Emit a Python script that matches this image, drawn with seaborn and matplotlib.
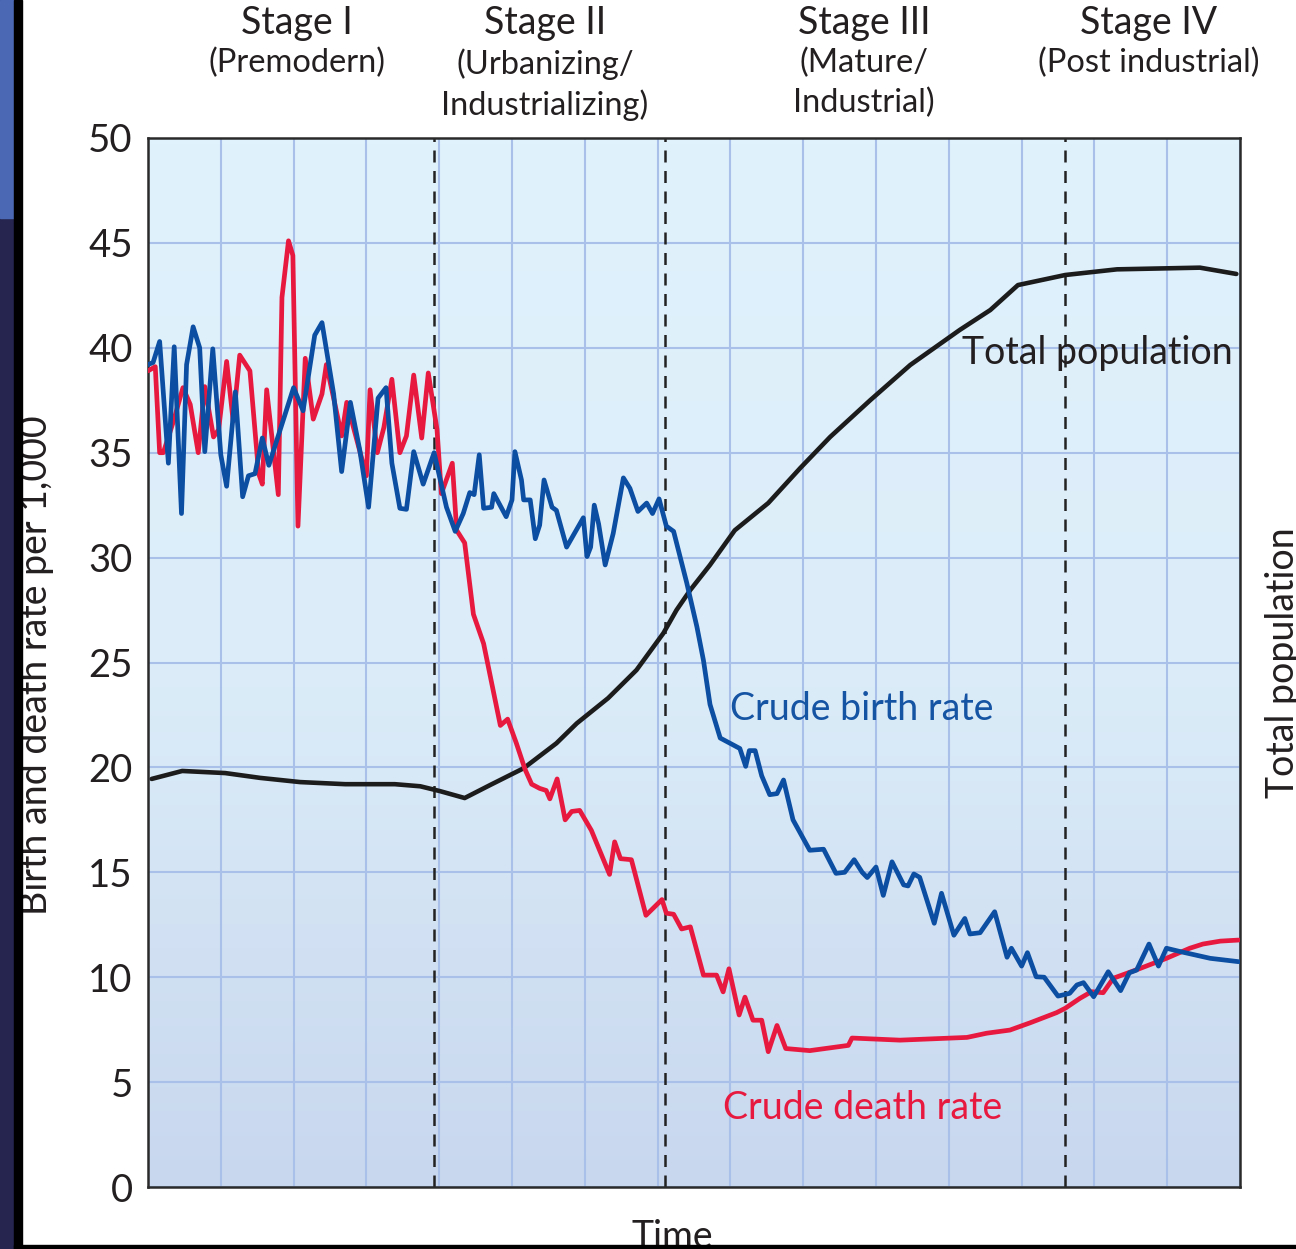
import numpy as np
import pandas as pd
import matplotlib
matplotlib.use("Agg")
import matplotlib.pyplot as plt
from matplotlib.colors import LinearSegmentedColormap
from matplotlib.patches import Rectangle
import seaborn as sns

# ---------------- data ----------------
birth_t = [0.0, 0.7, 1.6, 2.8, 3.6, 4.6, 5.3, 6.2, 7.1, 7.8, 8.9, 10.0, 10.8, 12.0, 13.0, 13.8,
           14.7, 15.7, 16.6, 20.0, 21.3, 22.9, 23.9, 25.5, 26.6, 27.8, 29.1, 30.3, 31.6, 32.7,
           33.5, 34.6, 35.5, 36.5, 37.8, 39.3, 41.0, 42.2, 43.3, 44.2, 44.8, 45.5, 46.1, 47.2,
           47.5, 49.2, 50.0, 50.4, 51.3, 51.6, 52.5, 53.2, 53.8, 54.4, 55.5, 56.1, 57.5, 59.8,
           60.3, 60.8, 61.3, 61.9, 62.8, 63.9, 65.3, 66.2, 67.3, 68.5, 69.3, 70.2, 71.2, 72.2,
           74.0, 75.4, 76.3, 77.2, 78.6, 81.3, 82.1, 82.6, 83.4, 84.3, 85.4, 86.4, 87.3, 88.6,
           90.9, 92.8, 94.5, 95.7, 97.0, 98.1, 98.8, 100.0, 101.0, 102.2, 103.8, 104.4, 105.2,
           106.0, 108.0, 109.0, 110.7, 112.2, 112.9, 114.3, 116.3, 118.0, 118.6, 120.0, 120.8,
           122.0, 123.1, 125.0, 126.6, 127.6, 128.5, 129.9, 131.9, 133.6, 134.8, 135.8, 137.5,
           138.8, 139.9, 141.8, 145.9, 149.8]
birth_rate = [39.2, 39.3, 40.3, 34.5, 40.05, 32.1, 39.2, 41.0, 40.0, 35.05, 39.95, 34.9, 33.4, 37.9,
              32.9, 33.9, 34.0, 35.7, 34.4, 38.1, 37.0, 40.6, 41.2, 37.8, 34.1, 37.4, 35.1, 32.4,
              37.6, 38.1, 34.5, 32.35, 32.3, 35.05, 33.5, 35.0, 32.4, 31.25, 32.1, 33.1, 33.0,
              34.9, 32.35, 32.4, 33.05, 31.95, 32.75, 35.05, 33.7, 32.75, 32.75, 30.9, 31.55,
              33.7, 32.4, 32.25, 30.5, 31.9, 30.05, 30.5, 32.5, 31.6, 29.65, 31.15, 33.8, 33.3,
              32.2, 32.6, 32.1, 32.8, 31.5, 31.25, 28.8, 26.7, 25.1, 23.0, 21.4, 20.9, 20.05,
              20.8, 20.8, 19.6, 18.7, 18.75, 19.4, 17.5, 16.05, 16.1, 14.95, 15.0, 15.6, 15.0,
              14.75, 15.25, 13.9, 15.5, 14.4, 14.35, 14.92, 14.76, 12.57, 14.0, 12.0, 12.8, 12.06,
              12.12, 13.12, 10.95, 11.38, 10.53, 11.17, 10.02, 10.0, 9.1, 9.23, 9.63, 9.74, 9.07,
              10.26, 9.36, 10.21, 10.34, 11.58, 10.53, 11.38, 11.22, 10.9, 10.74]

death_t = [0.0, 1.0, 1.6, 2.1, 3.5, 4.8, 5.8, 6.9, 7.8, 9.0, 9.7, 10.8, 11.7, 12.6, 14.0, 15.2,
           15.7, 16.3, 17.9, 18.4, 19.3, 19.9, 20.6, 21.6, 22.7, 23.9, 24.5, 25.5, 26.6, 27.3,
           30.0, 30.5, 31.5, 32.4, 33.5, 34.6, 35.5, 36.5, 37.6, 38.5, 39.7, 40.3, 41.8, 42.4,
           43.5, 44.7, 46.1, 48.4, 49.4, 50.6, 51.8, 52.7, 53.8, 54.7, 55.2, 56.2, 57.3, 58.2,
           59.3, 60.9, 63.4, 64.1, 64.9, 66.4, 68.4, 70.6, 71.2, 72.2, 73.3, 74.5, 76.3, 78.1,
           79.0, 79.8, 81.2, 82.0, 83.1, 84.3, 85.2, 86.4, 87.6, 90.9, 96.2, 96.7, 103.3, 112.5,
           115.2, 118.4, 121.2, 124.8, 126.0, 128.0, 129.6, 131.2, 132.6, 136.3, 139.9, 143.1,
           144.9, 147.3, 149.8]
death_rate = [38.9, 39.1, 35.0, 35.0, 36.5, 38.1, 37.3, 35.0, 38.15, 35.75, 36.1, 39.35, 36.5,
              39.65, 38.9, 34.0, 33.5, 38.0, 33.0, 42.4, 45.1, 44.4, 31.5, 39.5, 36.6, 37.8, 39.2,
              37.6, 35.8, 37.4, 33.9, 38.0, 35.0, 36.2, 38.5, 35.0, 35.8, 38.7, 35.7, 38.8, 36.1,
              33.05, 34.5, 31.3, 30.7, 27.3, 25.9, 22.0, 22.3, 21.15, 19.9, 19.2, 19.0, 18.9,
              18.5, 19.45, 17.5, 17.9, 17.95, 17.0, 14.9, 16.45, 15.65, 15.6, 12.95, 13.7, 13.05,
              13.0, 12.3, 12.4, 10.1, 10.1, 9.3, 10.4, 8.2, 9.05, 7.95, 7.95, 6.45, 7.7, 6.6, 6.5,
              6.75, 7.1, 7.0, 7.13, 7.33, 7.48, 7.83, 8.31, 8.52, 8.99, 9.31, 9.26, 9.95, 10.42,
              10.9, 11.38, 11.58, 11.72, 11.77]

pop_t = [0.5, 4.7, 10.6, 15.4, 20.9, 27.1, 33.9, 37.4, 40.1, 43.5, 47.0, 51.6, 56.1, 58.9,
         63.2, 67.1, 70.8, 72.6, 74.5, 77.2, 80.6, 85.2, 89.6, 93.7, 99.2, 104.7, 111.5, 115.7,
         119.5, 126.0, 133.1, 144.5, 149.5]
population = [19.45, 19.83, 19.73, 19.5, 19.3, 19.2, 19.2, 19.1, 18.87, 18.54, 19.16, 19.96,
              21.15, 22.1, 23.3, 24.64, 26.4, 27.5, 28.46, 29.65, 31.3, 32.6, 34.27, 35.75, 37.5,
              39.18, 40.85, 41.8, 42.99, 43.47, 43.74, 43.82, 43.52]

stage_bounds = [39.3, 71.0, 126.0]
stage_titles = ["Stage I", "Stage II", "Stage III", "Stage IV"]
stage_subtitles = ["(Premodern)", "(Urbanizing/\nIndustrializing)", "(Mature/\nIndustrial)",
                   "(Post industrial)"]
y_ticks = [0, 5, 10, 15, 20, 25, 30, 35, 40, 45, 50]

# ---------------- style ----------------
sns.set_style("white")
plt.rcParams['font.family'] = ['Lato', 'DejaVu Sans']
TXT = "#231f20"
RED = "#e8193f"
BLUE = "#0b4ea2"
BLACK = "#1c1c1c"

W, H = 1296, 1249
fig = plt.figure(figsize=(W / 100, H / 100), dpi=100)
fig.patch.set_facecolor("white")

def fx(px):
    return px / W

def fy(py):
    return 1 - py / H

ax = fig.add_axes([fx(148), fy(1187), fx(1240) - fx(148), fy(138) - fy(1187)])

# gradient background
cmap = LinearSegmentedColormap.from_list("bg", ["#e0f2fc", "#dcedf9", "#c8d7ee"])
ax.imshow(np.linspace(0, 1, 256).reshape(-1, 1), extent=[0, 150, 0, 50], aspect="auto",
          cmap=cmap, origin="upper", zorder=0, interpolation="bicubic")

ax.set_xlim(0, 150)
ax.set_ylim(0, 50)
ax.set_xticks(np.arange(0, 151, 10))
ax.set_xticklabels([])
ax.set_yticks(y_ticks)
ax.set_yticklabels([str(v) for v in y_ticks])
ax.tick_params(axis="both", length=0)
ax.tick_params(axis="y", pad=11, labelsize=27.5, labelcolor=TXT)
ax.set_axisbelow(True)
ax.grid(True, color="#a9c1e8", lw=1.5)

for s in ax.spines.values():
    s.set_visible(True)
    s.set_color("#2a2a2a")
    s.set_linewidth(1.8)

# stage boundaries
for b in stage_bounds:
    ax.axvline(b, color="#222222", lw=1.8, linestyle=(0, (4.8, 3.4)), zorder=2)

df_pop = pd.DataFrame({"t": pop_t, "v": population})
df_d = pd.DataFrame({"t": death_t, "v": death_rate})
df_b = pd.DataFrame({"t": birth_t, "v": birth_rate})
sns.lineplot(data=df_pop, x="t", y="v", ax=ax, color=BLACK, lw=3.3, estimator=None, zorder=3)
sns.lineplot(data=df_d, x="t", y="v", ax=ax, color=RED, lw=3.4, estimator=None, zorder=4)
sns.lineplot(data=df_b, x="t", y="v", ax=ax, color=BLUE, lw=3.4, estimator=None, zorder=5)
ax.set_xlabel("")
ax.set_ylabel("")

# line labels
ax.text(79.9, 22.8, "Crude birth rate", color="#1553a3", fontsize=27, va="center", ha="left", zorder=6)
ax.text(79.0, 3.75, "Crude death rate", color=RED, fontsize=27, va="center", ha="left", zorder=6)
ax.text(111.8, 39.75, "Total population", color=TXT, fontsize=27, va="center", ha="left", zorder=6)

# stage headers
stage_x = [297, 545, 864, 1149]
for xc, t1, t2 in zip(stage_x, stage_titles, stage_subtitles):
    fig.text(fx(xc), fy(23), t1, ha="center", va="center", fontsize=27, color=TXT)
    fig.text(fx(xc), fy(48), t2, ha="center", va="top", fontsize=23.5, color=TXT,
             linespacing=1.37)

# axis labels
fig.text(fx(36), fy(665), "Birth and death rate per 1,000", rotation=90, ha="center",
         va="center", fontsize=27, color=TXT)
fig.text(fx(1283), fy(663), "Total population", rotation=90, ha="center", va="center",
         fontsize=27, color=TXT)
fig.text(fx(672), fy(1237), "Time", ha="center", va="center", fontsize=27, color=TXT)

# screenshot frame artifacts
fig.patches.append(Rectangle((0, 0), fx(15), 1, transform=fig.transFigure, color="#25254f", zorder=10))
fig.patches.append(Rectangle((0, fy(218)), fx(15), 1 - fy(218), transform=fig.transFigure,
                             color="#4a68b3", zorder=11))
fig.patches.append(Rectangle((fx(14), 0), fx(8), 1, transform=fig.transFigure, color="#000000", zorder=12))
fig.patches.append(Rectangle((fx(14), 0), 1, fy(1245), transform=fig.transFigure, color="#000000", zorder=12))

fig.savefig("out.png", dpi=100)
